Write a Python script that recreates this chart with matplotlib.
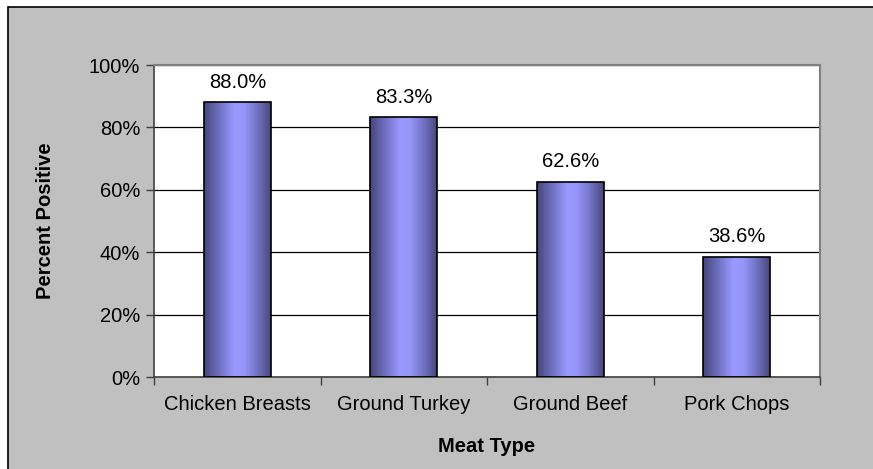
import numpy as np
import matplotlib.pyplot as plt
from matplotlib.colors import LinearSegmentedColormap
from matplotlib.patches import Rectangle

meat_types = ["Chicken Breasts", "Ground Turkey", "Ground Beef", "Pork Chops"]
pct_positive = [88.0, 83.3, 62.6, 38.6]
y_ticks = [0, 20, 40, 60, 80, 100]

plt.rcParams['font.family'] = ['Liberation Sans', 'DejaVu Sans']
fs = 14.5

fig = plt.figure(figsize=(8.73, 4.69), dpi=100)
fig.patch.set_facecolor('white')

# grey chart area with black border
fig.patches.append(Rectangle((8 / 873, -0.05), 1.0, 1 - 7 / 469 + 0.05,
                             transform=fig.transFigure, facecolor='#c0c0c0',
                             edgecolor='black', linewidth=1.2, zorder=-10))

ax = fig.add_axes([154 / 873, 1 - 377 / 469, 666 / 873, 312 / 469])
ax.set_facecolor('white')

x = np.arange(len(meat_types))
bar_w = 0.4
bars = ax.bar(x, pct_positive, width=bar_w, color='none', edgecolor='black',
              linewidth=1.2, zorder=3)

# shaded fill: dark edges, light centre
cmap = LinearSegmentedColormap.from_list('shade', [
    (0.0, '#46467a'), (0.22, '#6e6ebe'), (0.45, '#9999ff'),
    (0.6, '#9696fa'), (0.8, '#7272c4'), (1.0, '#48487a')])
grad = np.linspace(0, 1, 256).reshape(1, -1)
for b in bars:
    x0, w, h = b.get_x(), b.get_width(), b.get_height()
    im = ax.imshow(grad, cmap=cmap, aspect='auto', extent=(x0, x0 + w, 0, h),
                   zorder=2, interpolation='bilinear')
    im.set_clip_path(b)

for xi, v in zip(x, pct_positive):
    ax.text(xi, v + 3.3, f"{v:.1f}%", ha='center', va='bottom', fontsize=fs)

ax.set_xlim(-0.5, len(meat_types) - 0.5)
ax.set_ylim(0, 100)
ax.set_yticks(y_ticks)
ax.set_yticklabels([f"{t}%" for t in y_ticks], fontsize=fs)
ax.yaxis.grid(True, color='black', linewidth=0.9, zorder=1)
ax.set_axisbelow(True)

ax.set_xticks(x)
ax.set_xticklabels(meat_types, fontsize=fs)
ax.tick_params(axis='x', length=0, pad=13)
ax.set_xticks(np.arange(-0.5, len(meat_types)), minor=True)
ax.tick_params(axis='x', which='minor', length=6, color='#404040', width=1)
ax.tick_params(axis='y', length=6, color='#404040', width=1, pad=4)

for side in ['top', 'right']:
    ax.spines[side].set_color('#808080')
    ax.spines[side].set_linewidth(1.5)
for side in ['left', 'bottom']:
    ax.spines[side].set_color('#404040')
    ax.spines[side].set_linewidth(1.2)

ax.set_ylabel("Percent Positive", fontsize=fs, fontweight='bold', labelpad=24)
ax.set_xlabel("Meat Type", fontsize=fs, fontweight='bold', labelpad=16.5)

fig.savefig('out.png', dpi=100)
